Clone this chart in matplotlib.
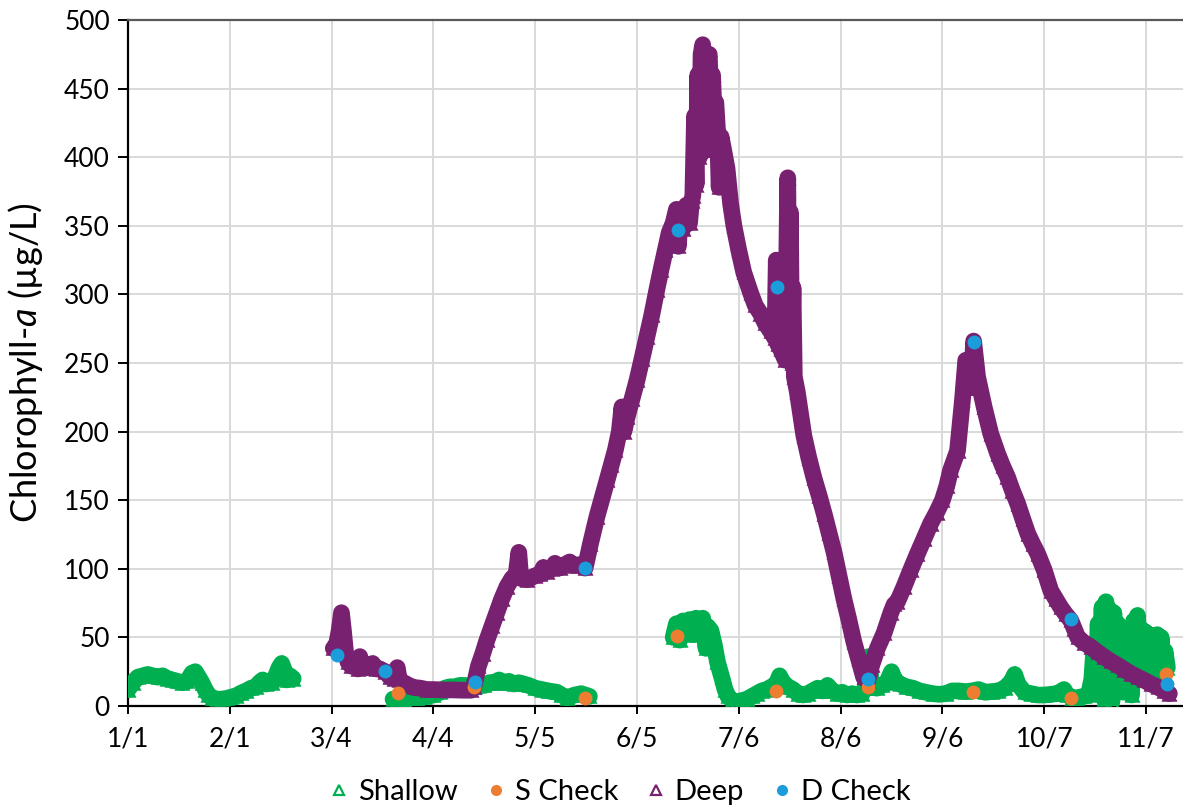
import datetime as dt
import numpy as np
import matplotlib
matplotlib.use("Agg")
import matplotlib.pyplot as plt
from matplotlib.lines import Line2D

# ---- data: day offsets from 1 January, chlorophyll-a in ug/L ----
tick_labels = ["1/1", "2/1", "3/4", "4/4", "5/5", "6/5", "7/6", "8/6", "9/6", "10/7", "11/7"]

shallow_day = [
    0, 1.5, 3, 4.5, 6, 7.5, 9, 10.5, 12, 13.5, 15, 16.5, 18, 19.5, 20.5, 21.5, 22.5,
    23.5, 24.5, 25.5, 27, 28.5, 30, 31.5, 33, 34.5, 36, 37.5, 39, 40, 41, 42, 43, 44,
    45, 46, 46.8, 47.6, 48.3, 49.3, 50.3,
    65,
    80.7, 82, 84, 86, 88, 90, 93, 95, 96.5, 98, 99.5, 101, 102.5, 104, 105.5, 107,
    108.5, 110, 111.5, 113, 114.5, 116, 117.5, 119, 120.5, 122, 124, 126, 128, 130.6,
    132, 133.7, 136, 138, 140.5,
    153,
    166, 167, 168, 169, 170, 171, 172, 173, 174, 175, 176, 176.5, 177.5, 178.5, 179.5,
    180.8, 181.8, 182.7, 184, 185.5, 187, 188.5, 190, 191.5, 193, 194.5, 196, 197.4,
    198.4, 199.5, 201, 202.5, 204, 205.5, 207, 208.5, 210, 211.5, 213, 214.5, 216,
    217.5, 219, 220.5, 222, 223.5, 224.5, 225.5, 226.5, 228, 229.5, 231, 232.5, 233.5,
    235, 237, 239, 241, 243, 245, 247, 249, 251, 253, 255, 257, 259, 261, 263, 265,
    267, 269, 270, 271, 273, 275, 277, 279, 281, 283, 285, 286, 287.5, 289, 291, 292.5,
    293.5, 294.2, 294.8, 295.4, 296, 296.6, 297.2, 297.8, 298.4, 299, 299.6, 300.2,
    300.8, 301.4, 302, 302.6, 303.2, 303.8, 304.4, 305, 305.6, 306.2, 306.8, 307.4,
    308, 308.6, 309.2, 309.8, 310.4, 311, 311.6, 312.2, 312.8, 313.4, 314, 314.6,
    315.2, 315.8, 316.5,
]
shallow_val = [
    12, 17, 21, 22, 23, 22, 21, 22, 20, 19, 18, 17, 18, 24, 25, 21, 17,
    12, 8, 6, 5, 5, 5.5, 6.5, 7.5, 9.5, 11, 13, 14, 17, 19, 16, 18, 17,
    22, 28, 31, 26, 19, 22, 20,
    np.nan,
    5, 4, 4.5, 5.5, 6, 6.5, 8, 10, 13, 14, 14, 15, 15, 14, 14, 15,
    15, 17, 17, 19, 17, 18, 16, 17, 16, 15, 13, 12, 11, 10,
    8, 6, 8, 9, 7,
    np.nan,
    50, 60, 48, 62, 55, 63, 52, 64, 58, 64, 42, 58, 55, 45, 32,
    21, 12, 7, 4, 3, 4, 5, 7, 9, 11, 12, 14, 16,
    22, 17, 14, 12, 9, 8, 9, 11, 13, 11, 15, 11, 9,
    10, 8, 9, 8, 9, 13, 36, 14, 13, 15, 17, 25, 19,
    16, 14, 13, 11, 10, 9, 8.5, 9, 11, 11, 10.5, 11, 12, 10, 10.5, 11,
    13, 18, 23, 16, 10, 9, 8, 8, 8.5, 9, 12, 8, 6, 6, 7, 8,
    20, 45, 15, 60, 25, 72, 5, 76, 20, 70, 3, 68,
    25, 60, 15, 50, 10, 52, 12, 56, 8, 62, 20, 66,
    25, 56, 22, 54, 20, 52, 22, 50, 25, 52, 24, 50,
    30, 40, 28,
]

deep_day = [
    62.5, 63.5, 64.3, 65.0, 65.6, 66.3, 67.0, 68.0, 69.0, 70.0, 70.6, 71.2, 72.5,
    73.5, 74.5, 75.5, 76.7, 78.3, 79.8, 81.0, 82.0, 82.6, 84.0, 85.5, 87.0, 89.0,
    91.0, 93.0, 96.0, 99.0, 102.0, 104.5, 105.3, 106.7, 108, 109.3, 110.8, 112.3,
    113.8, 115.4, 116.9, 118.2, 119, 119.6, 121.5, 124, 125.5, 126.5, 127.6, 129,
    130, 131.6, 133, 134.5, 135.7, 137.5, 139.2, 140.8, 142.8, 145.9, 147.2, 148.4,
    149.6, 150.4, 151, 152, 153.5, 155, 156.5, 158, 159.5, 161, 162.3, 163.6, 164.8,
    166, 167, 167.6, 168.2, 169, 170, 171, 171.6, 172, 172.5, 173, 173.5, 174, 174.5,
    175, 175.5, 176, 176.5, 177, 177.5, 178, 178.5, 179, 179.5, 180, 180.6, 181.4,
    182.4, 183.5, 184.5, 186, 187.5,
    189.6, 191, 192.6, 194, 195.7, 197.0, 197.4, 197.8, 198.7, 200.2, 200.6, 200.9,
    201.3, 201.7, 202.1, 202.5, 202.9, 203.8, 204.8, 205.8, 207.3, 208.9, 210.5, 212,
    213.5, 215, 216.5, 218, 219.5, 221, 222.5, 224, 225.2, 226.5, 228.2, 230.2, 232.3,
    233.3, 234.3, 236.3, 238.3, 240.4, 242.4, 244.4, 246.2, 248, 249.3, 250.5, 252.6,
    254.1, 255.1, 256.1, 256.8, 257.5, 258.7, 260.7, 262.7, 264.8, 266.3, 267.8,
    269.3, 270.9, 272.5, 274, 275.5, 277, 279, 281, 282.5, 284, 285.5, 287.1, 288.2,
    289.2, 291.2, 293.2, 295.3, 297.3, 299.3, 301.4, 303.4, 305.4, 307.5, 309.5,
    311.5, 313.6, 315.5, 317.1,
]
deep_val = [
    42, 45, 55, 68, 55, 38, 32, 29, 31, 27, 36, 28, 30,
    28, 31, 27, 27, 25, 21, 20, 28, 19, 17, 15, 13.5, 13,
    12, 12, 11.7, 11.7, 11.5, 11.5, 14, 29, 38, 48, 58, 68,
    78, 87, 93, 96, 112, 93, 92, 95, 96, 101, 98, 100,
    104, 100.7, 103, 105, 102.4, 103, 100.5, 118, 138, 164.6, 176, 186.5,
    200, 218, 200, 210.7, 224, 237.4, 253, 269, 285, 303, 318, 332, 345,
    352, 362, 335, 358, 348, 365, 352, 368, 372, 430, 380, 460, 400, 475,
    482, 430, 405, 470, 475, 440, 460, 430, 440, 420, 378, 415, 405,
    392, 366, 350, 332, 316,
    301, 292, 286, 279, 273, 268, 325, 264, 260, 252, 330, 385,
    265, 360, 250, 305, 240, 229, 213, 197, 181, 166, 153, 140,
    126, 112, 95, 78, 63, 47, 34, 21, 18, 30, 42, 53, 68,
    74, 76, 87, 99, 111, 122, 133, 141, 150, 160, 172, 186,
    223, 252, 244, 232, 266, 240, 218, 198.5, 184, 175, 167,
    157, 147.5, 136, 125.6, 118, 111, 99, 84, 78, 72, 67, 62.4, 56,
    50, 46, 43, 39, 35.7, 32.5, 29.6, 26.5, 23.6, 21, 18.7,
    16, 13.8, 11, 9,
]

s_check_day = [82.3, 105.5, 139.2, 167.3, 197.4, 225.4, 257.3, 287.2, 316.1]
s_check_val = [9.5, 14, 6, 51, 11, 14, 10, 6, 23.5]

d_check_day = [63.5, 78.3, 105.7, 139.2, 167.4, 197.5, 225.3, 257.5, 287.2, 316.4]
d_check_val = [37, 25.8, 17.7, 100.5, 346.6, 305.5, 19.5, 265.3, 63.2, 15.8]

# ---- styling ----
GREEN = "#00B050"
ORANGE = "#ED7D31"
PURPLE = "#782170"
BLUE = "#1B9DDB"
GRID = "#D9D9D9"

plt.rcParams["font.family"] = ["Lato", "DejaVu Sans"]
plt.rcParams["mathtext.fontset"] = "custom"
plt.rcParams["mathtext.it"] = "Lato:italic"
plt.rcParams["mathtext.rm"] = "Lato"

fig = plt.figure(figsize=(11.83, 8.09), dpi=100)
ax = fig.add_axes([128 / 1183, 1 - 706 / 809, 1 - 128 / 1183, (706 - 20) / 809])


def band(days, vals, color, z):
    # dense logger record: a thick trace with open triangle markers on top
    ax.plot(days, vals, color=color, lw=12, solid_joinstyle="round",
            solid_capstyle="round", zorder=z)
    ax.plot(days, vals, ls="none", marker="^", ms=8, mfc="none", mec=color,
            mew=1.8, zorder=z)


band(shallow_day, shallow_val, GREEN, 3)
band(deep_day, deep_val, PURPLE, 4)
ax.plot(s_check_day, s_check_val, ls="none", marker="o", ms=10, color=ORANGE,
        mec="none", zorder=5)
ax.plot(d_check_day, d_check_val, ls="none", marker="o", ms=10, color=BLUE,
        mec="none", zorder=6)

# x ticks at the listed month/day labels
year_start = dt.date(2019, 1, 1)
tick_pos = [(dt.date(2019, int(s.split("/")[0]), int(s.split("/")[1])) - year_start).days
            for s in tick_labels]
ax.set_xticks(tick_pos)
ax.set_xticklabels(tick_labels)
ax.set_xlim(0, (1183 - 128) / 3.284)
ax.set_ylim(0, 500)
ax.set_yticks(np.arange(0, 501, 50))

ax.grid(True, color=GRID, lw=1.4, zorder=0)
ax.set_axisbelow(True)
ax.spines["right"].set_visible(False)
ax.spines["top"].set_color("#595959")
ax.spines["top"].set_linewidth(1.6)
ax.spines["left"].set_color("black")
ax.spines["left"].set_linewidth(1.6)
ax.spines["bottom"].set_color("black")
ax.spines["bottom"].set_linewidth(1.6)
ax.tick_params(axis="both", direction="out", labelsize=19, width=1.4,
               color="black", labelcolor="black")
ax.tick_params(axis="y", length=7, pad=6)
ax.tick_params(axis="x", length=6, pad=9)

ax.set_ylabel("Chlorophyll-$\\it{a}$ (µg/L)", fontsize=26, labelpad=14)

handles = [
    Line2D([], [], ls="none", marker="^", ms=7, mfc="none", mec=GREEN, mew=1.6),
    Line2D([], [], ls="none", marker="o", ms=8, color=ORANGE, mec="none"),
    Line2D([], [], ls="none", marker="^", ms=7, mfc="none", mec=PURPLE, mew=1.6),
    Line2D([], [], ls="none", marker="o", ms=8, color=BLUE, mec="none"),
]
fig.legend(handles, ["Shallow", "S Check", "Deep", "D Check"], loc="center",
           bbox_to_anchor=(0.522, 1 - 792 / 809), ncol=4, frameon=False,
           fontsize=21, handletextpad=0.15, columnspacing=0.8, handlelength=1.0)

fig.savefig("out.png", dpi=100)
